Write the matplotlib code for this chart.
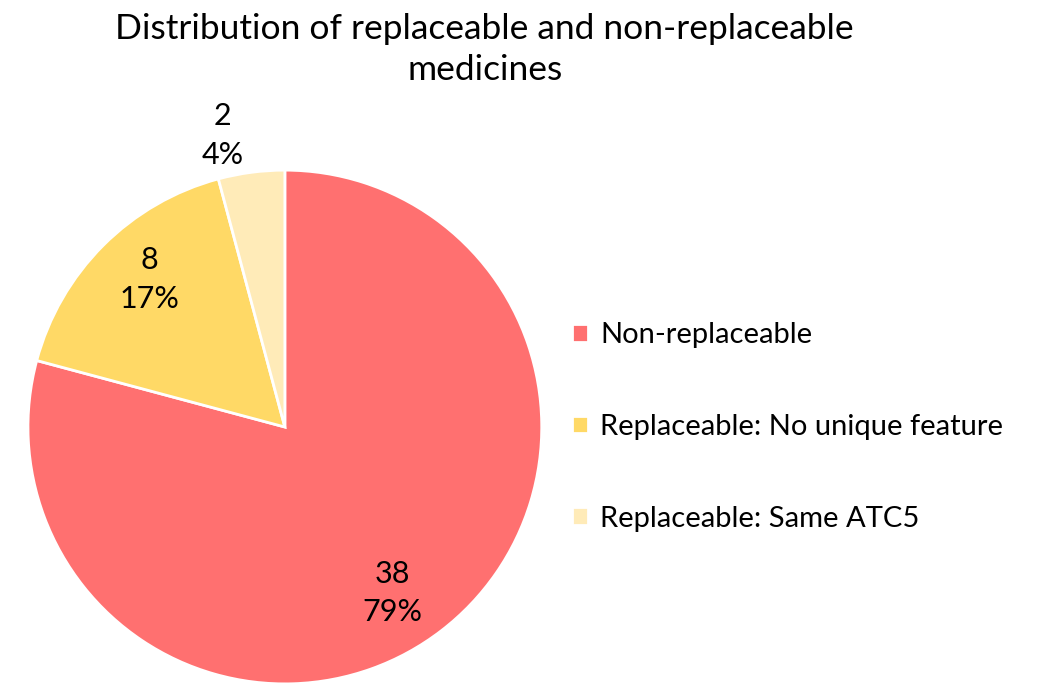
import matplotlib.pyplot as plt
import numpy as np

# Data
categories = ['Non-replaceable', 'Replaceable: No unique feature', 'Replaceable: Same ATC5']
counts = [38, 8, 2]
colors = ['#FF7070', '#FFD966', '#FFEBB8']

plt.rcParams['font.family'] = ['Lato', 'DejaVu Sans']

fig = plt.figure(figsize=(10.4, 6.83), dpi=100)
ax = fig.add_axes([0.0269, -0.0015, 0.494, 0.7526])

wedges, _ = ax.pie(counts, colors=colors, startangle=90, counterclock=False,
                   wedgeprops=dict(edgecolor='white', linewidth=2))
ax.set_xlim(-1, 1)
ax.set_ylim(-1, 1)
ax.set_aspect('equal')

# data labels: value and percent, positioned around each wedge
total = sum(counts)
label_pos = [(0.77, -57), (0.78, 132.6), (1.16, 102)]
for n, (r, ang) in zip(counts, label_pos):
    x = r * np.cos(np.radians(ang))
    y = r * np.sin(np.radians(ang))
    ax.text(x, y, f'{n}\n{round(100 * n / total)}%', ha='center', va='center',
            fontsize=22, linespacing=1.45, clip_on=False)

fig.text(0.466, 0.927, 'Distribution of replaceable and non-replaceable\nmedicines',
         ha='center', va='center', fontsize=25.5, linespacing=1.35)

fig.legend(wedges, categories, loc='center left', bbox_to_anchor=(0.525, 0.375),
           frameon=False, fontsize=21, handlelength=0.55, handleheight=0.55,
           handletextpad=0.4, labelspacing=2.25)

fig.savefig('out.png', dpi=100)
